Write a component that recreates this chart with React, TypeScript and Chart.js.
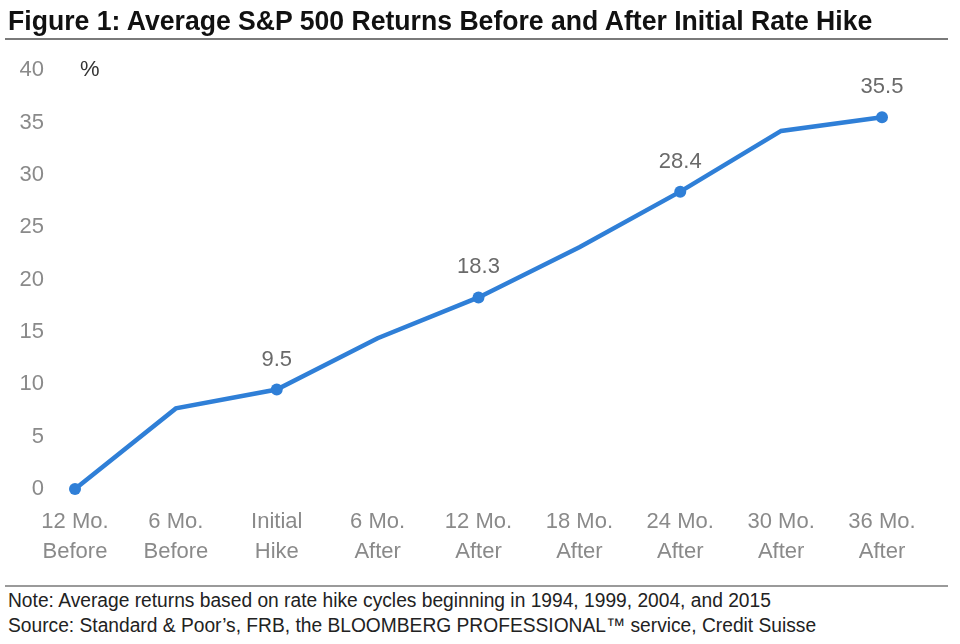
import React, { useEffect, useRef } from "react";
import { Chart, registerables } from "chart.js";

Chart.register(...registerables);

const categories: string[][] = [
  ["12 Mo.", "Before"],
  ["6 Mo.", "Before"],
  ["Initial", "Hike"],
  ["6 Mo.", "After"],
  ["12 Mo.", "After"],
  ["18 Mo.", "After"],
  ["24 Mo.", "After"],
  ["30 Mo.", "After"],
  ["36 Mo.", "After"],
];
const returns: number[] = [0, 7.7, 9.5, 14.4, 18.3, 23.1, 28.4, 34.2, 35.5];
const markedPoints: number[] = [0, 2, 4, 6, 8];
const labeledPoints: number[] = [2, 4, 6, 8];
const yTicks = { min: 0, max: 40, step: 5 };

const FONT = "'Liberation Sans', Arial, sans-serif";

const valueLabelPlugin = {
  id: "valueLabels",
  afterDatasetsDraw(chart: any) {
    const ctx = chart.ctx;
    const meta = chart.getDatasetMeta(0);
    ctx.save();
    ctx.font = `22px ${FONT}`;
    ctx.fillStyle = "#6a6a6a";
    ctx.textAlign = "center";
    ctx.textBaseline = "bottom";
    labeledPoints.forEach((i) => {
      const el = meta.data[i];
      ctx.fillText(returns[i].toFixed(1), el.x, el.y - 19);
    });
    ctx.restore();
  },
};

export default function App() {
  const ref = useRef<HTMLCanvasElement>(null);

  useEffect(() => {
    document.body.style.margin = "0";
    const chart = new Chart(ref.current!, {
      type: "line",
      data: {
        labels: categories,
        datasets: [
          {
            data: returns,
            borderColor: "#2f7fd7",
            backgroundColor: "#2f7fd7",
            borderWidth: 4.5,
            tension: 0,
            pointRadius: returns.map((_, i) => (markedPoints.includes(i) ? 6 : 0)),
            pointHoverRadius: 6,
            pointBorderWidth: 0,
            clip: false as any,
          },
        ],
      },
      options: {
        animation: false,
        responsive: false,
        maintainAspectRatio: false,
        layout: { padding: { top: 0, right: 78, left: 0, bottom: 0 } },
        plugins: {
          legend: { display: false },
          tooltip: { enabled: false },
        },
        scales: {
          x: {
            offset: false,
            grid: { display: false },
            border: { display: false },
            ticks: {
              color: "#8a8a8a",
              font: { family: FONT, size: 22, lineHeight: 1.36 },
              padding: 10,
              maxRotation: 0,
              autoSkip: false,
            },
            afterFit(scale: any) {
              scale.height = 81;
            },
          },
          y: {
            min: yTicks.min,
            max: yTicks.max,
            grid: { display: false },
            border: { display: false },
            ticks: {
              stepSize: yTicks.step,
              color: "#8a8a8a",
              font: { family: FONT, size: 22 },
              padding: 23,
            },
            afterFit(scale: any) {
              scale.width = 75;
            },
          },
        },
      },
      plugins: [valueLabelPlugin],
    });
    return () => chart.destroy();
  }, []);

  return (
    <div style={{ position: "relative", width: 960, height: 644, background: "#fff", overflow: "hidden" }}>
      <canvas ref={ref} width={960} height={536} style={{ position: "absolute", left: 0, top: 34 }} />
      <div
        style={{
          position: "absolute",
          left: 8,
          top: 5,
          fontFamily: FONT,
          fontWeight: "bold",
          fontSize: 28,
          color: "#111",
          whiteSpace: "nowrap",
          transform: "scaleX(0.95)",
          transformOrigin: "left top",
        }}
      >
        Figure 1: Average S&amp;P 500 Returns Before and After Initial Rate Hike
      </div>
      <div style={{ position: "absolute", left: 5, top: 38, width: 943, height: 1.5, background: "#7a7a7a" }} />
      <div
        style={{
          position: "absolute",
          left: 80,
          top: 56,
          fontFamily: FONT,
          fontSize: 22,
          color: "#333",
        }}
      >
        %
      </div>
      <div style={{ position: "absolute", left: 5, top: 585, width: 943, height: 1.5, background: "#9a9a9a" }} />
      <div
        style={{
          position: "absolute",
          left: 8,
          top: 588,
          fontFamily: FONT,
          fontSize: 20,
          lineHeight: "25px",
          color: "#222",
          whiteSpace: "nowrap",
          transform: "scaleX(0.96)",
          transformOrigin: "left top",
        }}
      >
        <div>Note: Average returns based on rate hike cycles beginning in 1994, 1999, 2004, and 2015</div>
        <div>Source: Standard &amp; Poor’s, FRB, the BLOOMBERG PROFESSIONAL™ service, Credit Suisse</div>
      </div>
    </div>
  );
}
